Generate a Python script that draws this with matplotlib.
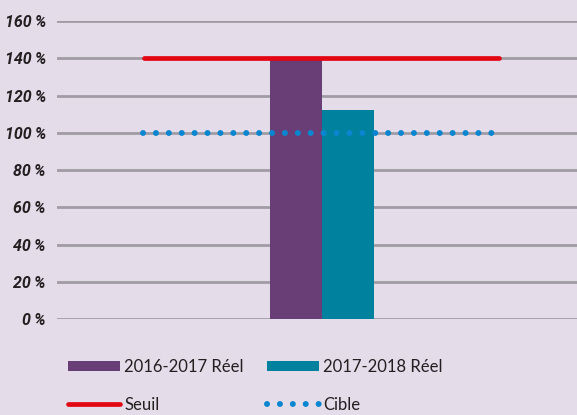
import matplotlib.pyplot as plt
from matplotlib.lines import Line2D
from matplotlib.patches import Patch

series_labels = ['2016-2017 Réel', '2017-2018 Réel']
series_values = [139, 112]
series_colors = ['#693e77', '#00819e']
seuil_label = 'Seuil'
seuil_value = 140
cible_label = 'Cible'
cible_value = 100
y_ticks = [0, 20, 40, 60, 80, 100, 120, 140, 160]
y_tick_labels = ['%d\u2009%%' % v for v in y_ticks]

bg = '#e4dce9'
red = '#e30613'
blue = '#0a86d0'
grid_col = '#a09ca4'

def main():
    fig = plt.figure(figsize=(5.77, 4.15), dpi=100, facecolor=bg)
    ax = fig.add_axes([57 / 577, 1 - 319 / 415, 530 / 577, 298 / 415])
    ax.set_facecolor(bg)

    bar_w = 0.195
    offsets = [-bar_w / 2, bar_w / 2]
    for off, val, col, lab in zip(offsets, series_values, series_colors, series_labels):
        ax.bar(off, val, width=bar_w, color=col, label=lab, zorder=2)

    # lignes seuil et cible
    dots = (0, (0.01, 2.15))
    ax.plot([-0.672, 0.667], [seuil_value, seuil_value], color=red, lw=3.4,
            solid_capstyle='round', zorder=3)
    ax.plot([-0.675, 0.645], [cible_value, cible_value], color=blue, lw=4.3,
            linestyle=dots, dash_capstyle='round', zorder=3)

    ax.set_xlim(-1, 1)
    ax.set_ylim(0, 160)
    ax.set_xticks([])
    ax.set_yticks(y_ticks)
    ax.set_yticklabels(y_tick_labels, fontsize=11.5, fontweight='bold', fontstyle='italic',
                       family=['Roboto', 'DejaVu Sans'], color='#231f20')
    ax.tick_params(axis='y', length=0, pad=8)
    ax.yaxis.grid(True, color=grid_col, lw=2, zorder=0)
    ax.set_axisbelow(True)
    for s in ax.spines.values():
        s.set_visible(False)

    handles = [
        Patch(facecolor=series_colors[0], label=series_labels[0]),
        Line2D([], [], color=red, lw=3.4, solid_capstyle='round', label=seuil_label),
        Patch(facecolor=series_colors[1], label=series_labels[1]),
        Line2D([], [], color=blue, lw=4.3, linestyle=dots,
               dash_capstyle='round', label=cible_label),
    ]
    fig.legend(handles=handles, ncol=2, loc='upper left', bbox_to_anchor=(68 / 577, 1 - 359 / 415),
               frameon=False, prop={'family': ['Lato', 'DejaVu Sans'], 'size': 12},
               handlelength=3.12, handleheight=0.6, handletextpad=0.25, columnspacing=1.4,
               labelspacing=1.3, borderpad=0, borderaxespad=0, labelcolor='#231f20')

    fig.savefig('out.png', dpi=100, facecolor=bg)

if __name__ == "__main__":
    main()
